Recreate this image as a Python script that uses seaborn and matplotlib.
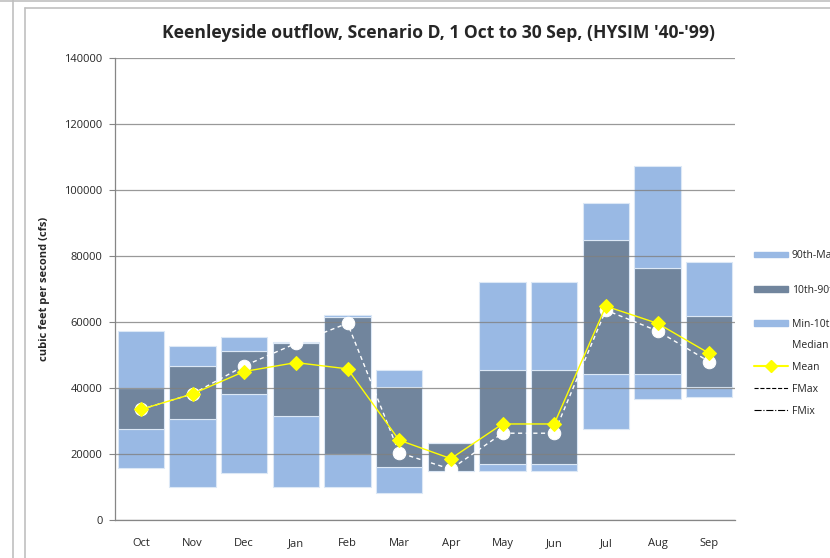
import numpy as np
import seaborn as sns
import matplotlib.pyplot as plt
from matplotlib.lines import Line2D
from matplotlib.patches import Patch

#data
months = ['Oct', 'Nov', 'Dec', 'Jan', 'Feb', 'Mar', 'Apr', 'May', 'Jun', 'Jul', 'Aug', 'Sep']
q_min = [15700, 10100, 14100, 10100, 10100, 8300, 14900, 14900, 14900, 27500, 36700, 37200]
q10 = [27500, 30600, 38200, 31500, 20000, 16100, 15000, 17000, 17000, 44100, 44100, 40200]
q90 = [40000, 46700, 51200, 53500, 61600, 40400, 23200, 45500, 45500, 85000, 76300, 61900]
q_max = [57400, 52700, 55400, 53900, 62000, 45500, 23400, 72200, 72200, 96200, 107300, 78300]
median = [33500, 38200, 46700, 53500, 59600, 20400, 15400, 26300, 26300, 63600, 57300, 48000]
mean = [33500, 38200, 45000, 47700, 45800, 24200, 18600, 29100, 29100, 64800, 59600, 50500]

light = '#99b9e4'
dark = '#71859d'

sns.set_style('white')
plt.rcParams['font.family'] = ['Open Sans', 'DejaVu Sans']

fig = plt.figure(figsize=(8.3, 5.58), dpi=100)
ax = fig.add_axes([115/830, 1-520/558, 620/830, 462/558])

lo, b10, b90, hi = (np.array(v) for v in (q_min, q10, q90, q_max))
# stacked bars: Min-10th, 10th-90th, 90th-Max
sns.barplot(x=months, y=b10-lo, bottom=lo, color=light, saturation=1, width=0.9,
            edgecolor='#dce8f6', linewidth=0.8, errorbar=None, ax=ax)
sns.barplot(x=months, y=b90-b10, bottom=b10, color=dark, saturation=1, width=0.9,
            edgecolor='#dce8f6', linewidth=0.8, errorbar=None, ax=ax)
sns.barplot(x=months, y=hi-b90, bottom=b90, color=light, saturation=1, width=0.9,
            edgecolor='#dce8f6', linewidth=0.8, errorbar=None, ax=ax)

xs = np.arange(len(months))
sns.lineplot(x=xs, y=median, color='white', linestyle=(0, (3, 2.5)), linewidth=1,
             marker='o', markersize=9, markeredgecolor='white', zorder=4, ax=ax)
sns.lineplot(x=xs, y=mean, color='#ffff00', linewidth=1.0, marker='D', markersize=7,
             markeredgecolor='#ffff00', zorder=5, ax=ax)

ax.set_axisbelow(False)
ax.set_ylim(0, 140000)
ax.set_xlim(-0.5, len(months) - 0.5)
ax.set_yticks(np.arange(0, 140001, 20000))
ax.yaxis.grid(True, color='#808080', linewidth=0.9, alpha=0.8)
ax.set_xticks(xs)
ax.set_xticklabels(months)
ax.set_xticks(np.arange(-0.5, len(months)), minor=True)
ax.tick_params(axis='x', which='major', length=0, labelsize=8, pad=13)
ax.tick_params(axis='x', which='minor', length=4, color='#868686', width=0.8, direction='out')
ax.tick_params(axis='y', length=4, color='#868686', width=0.8, direction='out',
               labelsize=8, left=True, pad=5)
for s in ['top', 'right']:
    ax.spines[s].set_visible(False)
for s in ['left', 'bottom']:
    ax.spines[s].set_color('#868686')
    ax.spines[s].set_linewidth(0.9)
ax.set_xlabel('')
ax.set_ylabel('cubic feet per second (cfs)', fontsize=8, fontweight='bold')
ax.yaxis.set_label_coords(-65/620, 0.5)

fig.text(438/830, 1-33/558, "Keenleyside outflow, Scenario D, 1 Oct to 30 Sep, (HYSIM '40-'99)",
         ha='center', va='center', fontsize=12.6, fontweight='bold')

# legends
patches = [Patch(color=light, label='90th-Max'), Patch(color=dark, label='10th-90th'),
           Patch(color=light, label='Min-10th')]
fig.legend(handles=patches, loc='upper left', bbox_to_anchor=(750/830, 1-246/558),
           frameon=False, fontsize=7.5, handlelength=3.2, handleheight=0.5,
           labelspacing=2.25, handletextpad=0.4, borderaxespad=0)
lines = [Line2D([], [], color='white', marker='o', markeredgecolor='white', label='Median'),
         Line2D([], [], color='#ffff00', marker='D', markersize=6, label='Mean'),
         Line2D([], [], color='black', linestyle='--', linewidth=0.8, label='FMax'),
         Line2D([], [], color='black', linestyle='-.', linewidth=0.8, label='FMix')]
fig.legend(handles=lines, loc='upper left', bbox_to_anchor=(750/830, 1-336/558),
           frameon=False, fontsize=7.5, handlelength=3.2, labelspacing=1.05,
           handletextpad=0.4, borderaxespad=0)

# surrounding worksheet/chart borders
gc = '#c0c0c0'
fig.add_artist(Line2D([13/830, 13/830], [0, 1], color=gc, lw=1.2))
fig.add_artist(Line2D([0, 1], [1-1/558, 1-1/558], color=gc, lw=1.2))
fig.add_artist(Line2D([25/830, 25/830], [0, 1-8/558], color=gc, lw=1.2))
fig.add_artist(Line2D([25/830, 1], [1-8/558, 1-8/558], color=gc, lw=1.2))

fig.savefig('out.png', dpi=100)
